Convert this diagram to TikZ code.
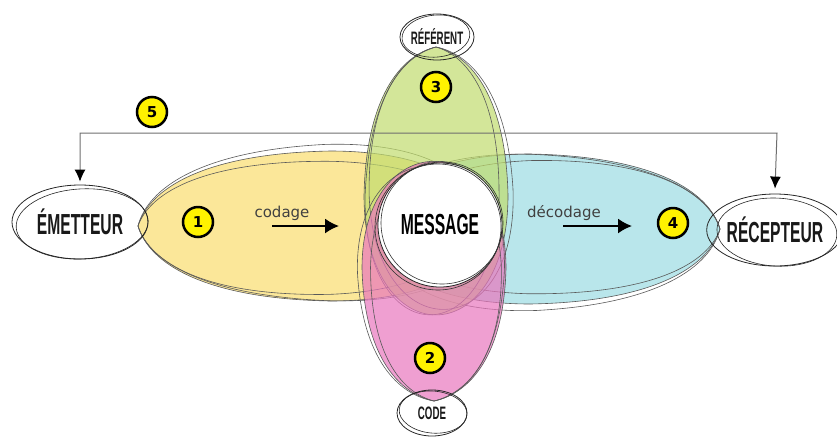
\documentclass[tikz,border=0pt]{standalone}
\usepackage{fontspec}
\usepackage{tikz}
\usetikzlibrary{arrows.meta,shapes.geometric,positioning}

\newfontfamily\labelfont[FakeStretch=0.54]{Liberation Sans Bold}
\newfontfamily\flowfont{DejaVu Sans}
\newfontfamily\numfont{DejaVu Sans Bold}

\definecolor{yellowfill}{RGB}{250,221,109}
\definecolor{greenfill}{RGB}{192,220,109}
\definecolor{pinkfill}{RGB}{232,118,189}
\definecolor{bluefill}{RGB}{155,220,226}
\definecolor{inkgray}{RGB}{110,110,110}

% egg shape: rounded tip at the origin, body along +x
\newcommand{\petalpath}[2]{(0,0) .. controls ({0.03*#1},{-0.5*#2}) and ({0.18*#1},{-0.97*#2}) .. ({0.52*#1},{-#2})
  .. controls ({1.08*#1},{-#2}) and ({1.08*#1},{#2}) .. ({0.52*#1},{#2})
  .. controls ({0.18*#1},{0.97*#2}) and ({0.03*#1},{0.5*#2}) .. (0,0) -- cycle}

% tip x, tip y, angle, length, half width, colour
\newcommand{\petal}[6]{%
  \begin{scope}[shift={(#1,#2)}, rotate=#3]
    \fill[#6, fill opacity=0.7] \petalpath{#4}{#5};
    \draw[sketch] \petalpath{#4}{#5};
    \draw[sketch, rotate=2, xscale=0.98] \petalpath{#4}{#5};
    \draw[sketch, rotate=-1.5, yscale=0.93] \petalpath{#4}{#5};
  \end{scope}}

\tikzset{
  sketch/.style={draw=black!65, line width=0.6pt},
  pole/.style={ellipse, draw=black!85, line width=0.8pt, inner sep=0pt, text=black!90},
  bigpole/.style={pole, font=\labelfont\fontsize{29}{29}\selectfont},
  smallpole/.style={pole, minimum width=70pt, minimum height=46pt, font=\labelfont\fontsize{18}{18}\selectfont},
  num/.style={circle, draw=black, line width=2.5pt, fill=yellow, minimum size=30pt,
    inner sep=0pt, font=\numfont\fontsize{15}{15}\selectfont},
  flow/.style={line width=1.8pt, -{Latex[length=14pt,width=15pt]}},
  flowtext/.style={font=\flowfont\fontsize{15}{15}\selectfont, text=black!75},
  feedback/.style={draw=inkgray, line width=1pt,
    {Latex[length=12pt,width=11pt,black]}-{Latex[length=12pt,width=11pt,black]}}
}

\begin{document}
\begin{tikzpicture}[x=1pt,y=-1pt]
	\useasboundingbox (0,0) rectangle (837,445);

	% the four fields
	\petal{138}{226}{0}{370}{75}{yellowfill}
	\petal{720}{229}{180}{365}{75}{bluefill}
	\petal{436}{47}{-90}{285}{72}{greenfill}
	\petal{434}{401}{90}{255}{72}{pinkfill}

	% message in the middle
	\node (message) at (440,225) [circle, fill=white, draw=black!85, line width=0.8pt,
		minimum size=124pt, inner sep=0pt, font=\labelfont\fontsize{29}{29}\selectfont] {MESSAGE};
	\draw[sketch, black!80] (442,223) circle (61pt);
	\draw[sketch, black!80] (438,227) circle (63pt);

	% poles
	\node (emetteur) at (80,222) [bigpole, minimum width=136pt, minimum height=74pt] {ÉMETTEUR};
	\draw[sketch, black!85, rotate around={3:(80,222)}] (82,224) ellipse (66pt and 35pt);
	\node (recepteur) at (775,230) [bigpole, minimum width=124pt, minimum height=72pt] {RÉCEPTEUR};
	\draw[sketch, black!85, rotate around={-3:(775,230)}] (777,232) ellipse (60pt and 34pt);
	\node (referent) at (437,37) [smallpole] {RÉFÉRENT};
	\draw[sketch, black!85, rotate around={5:(437,37)}] (436,36) ellipse (34pt and 21pt);
	\node (code) at (432,413) [smallpole] {CODE};
	\draw[sketch, black!85, rotate around={-5:(432,413)}] (433,412) ellipse (34pt and 21pt);

	% codage / decodage
	\node (codage) at (282,213) [flowtext] {codage};
	\coordinate (codA) at (272,226);
	\coordinate (codB) at (339,226);
	\draw[flow] (codA) -- (codB);
	\node (decodage) at (564,213) [flowtext] {décodage};
	\coordinate (decA) at (563,226);
	\coordinate (decB) at (632,226);
	\draw[flow] (decA) -- (decB);

	% feedback
	\coordinate (fbleft) at (80,133);
	\coordinate (fbright) at (777,133);
	\draw[feedback] ([yshift=3pt]emetteur.north) -- (fbleft) -- (fbright) -- ([yshift=5pt]recepteur.north);

	% numbers
	\node (n1) at (198,222) [num] {1};
	\node (n2) at (430,358) [num] {2};
	\node (n3) at (436,87) [num] {3};
	\node (n4) at (673,223) [num] {4};
	\node (n5) at (152,112) [num] {5};

\end{tikzpicture}
\end{document}
